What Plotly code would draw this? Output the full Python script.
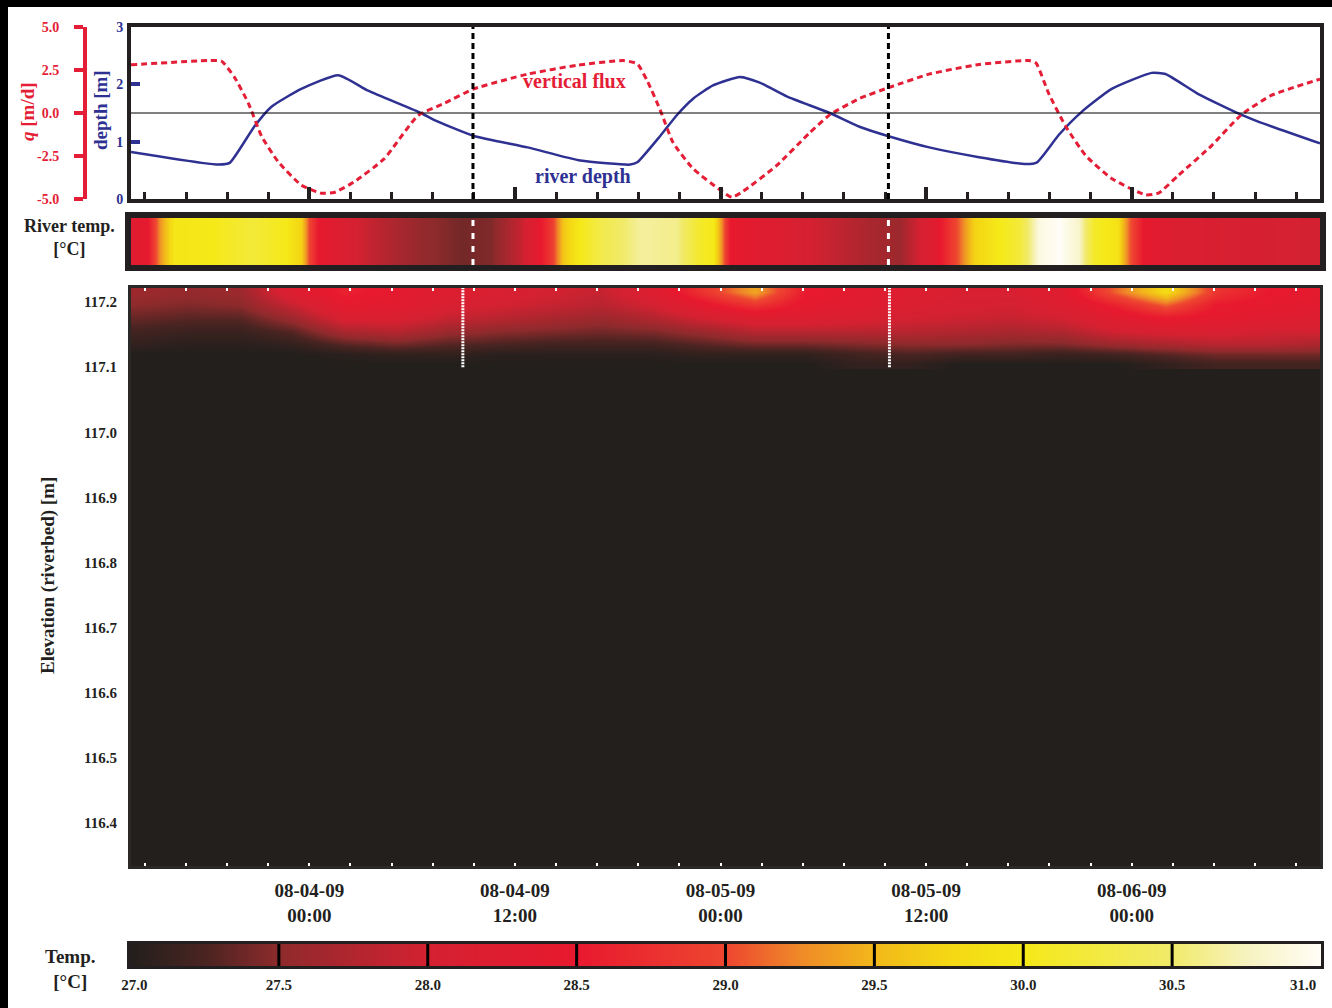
import pandas as pd
import plotly.graph_objects as go

# ---------------- data ----------------
BASE = pd.Timestamp("2009-08-04 00:00")

# river depth [m]  (hours after 08-04-09 00:00)
depth_hours = [-10.41, -6.28, -5.29, -4.65, -3.20, -2.21, -0.47, 1.69, 3.43, 6.52, 7.27,
               9.60, 12.74, 15.82, 18.73, 19.14, 20.48, 21.47, 22.40, 23.56, 25.13, 26.29,
               27.86, 30.37, 32.11, 33.86, 36.18, 39.09, 41.83, 42.47, 43.75, 45.08, 46.83,
               49.16, 49.97, 51.89, 54.39, 55.38, 58.99]
depth_m = [0.82, 0.63, 0.60, 0.63, 1.27, 1.61, 1.92, 2.16, 1.89, 1.50, 1.38,
           1.10, 0.90, 0.67, 0.60, 0.64, 1.10, 1.47, 1.75, 1.98, 2.13, 2.03,
           1.79, 1.50, 1.26, 1.09, 0.90, 0.73, 0.61, 0.64, 1.12, 1.52, 1.92,
           2.20, 2.18, 1.83, 1.47, 1.35, 0.97]

# vertical flux q [m/d]
q_hours = [-10.41, -5.88, -5.12, -4.36, -3.55, -2.79, -1.80, -0.47, 0.70, 1.45, 2.62, 4.36,
           6.34, 7.85, 9.60, 12.74, 15.65, 18.32, 19.14, 19.72, 20.48, 21.23, 22.40, 23.97,
           24.67, 25.31, 27.28, 29.20, 30.37, 32.11, 33.86, 36.18, 39.09, 42.00, 42.41,
           43.16, 44.15, 45.32, 46.83, 48.81, 49.56, 50.73, 52.65, 54.39, 56.14, 58.99]
q_md = [2.80, 3.05, 3.01, 2.06, 0.55, -1.35, -2.86, -4.19, -4.66, -4.62, -4.00, -2.67,
        -0.15, 0.55, 1.40, 2.26, 2.78, 3.05, 2.86, 1.88, 0.17, -1.72, -3.24, -4.47,
        -4.90, -4.56, -3.05, -1.15, -0.11, 0.84, 1.49, 2.26, 2.82, 3.05, 2.91,
        1.12, -0.78, -2.48, -3.81, -4.76, -4.66, -3.62, -1.91, -0.11, 1.02, 1.97]

# river temperature [degC]
river_hours = [-10.30, -9.48, -8.73, -7.91, -5.70, -3.37, -1.34, -0.47, 0.00, 0.58, 2.15,
               4.19, 6.52, 8.84, 10.59, 12.33, 13.32, 14.19, 14.83, 15.82, 16.99, 19.31,
               21.47, 22.80, 23.56, 23.97, 24.55, 26.29, 29.78, 32.69, 34.44, 36.47, 37.93,
               38.80, 40.26, 41.42, 42.58, 43.75, 44.91, 45.78, 47.12, 47.82, 48.69, 50.73,
               54.80, 58.87]
river_temp = [28.30, 28.45, 29.30, 29.95, 30.00, 30.20, 30.00, 29.70, 29.00, 28.45, 28.10,
              27.80, 27.55, 27.40, 27.45, 27.90, 28.40, 28.90, 29.60, 30.00, 30.30, 30.65,
              30.60, 30.10, 30.00, 29.40, 28.50, 28.30, 27.95, 27.70, 27.60, 28.30, 29.10,
              29.70, 30.00, 30.20, 30.90, 31.00, 30.80, 30.10, 29.90, 29.10, 28.45, 28.15,
              28.05, 28.00]

# riverbed temperature profile
profile_hours = [-10, -7, -4, -1, 2, 5, 8, 11, 14, 17, 20, 23, 26, 29, 32, 35, 38, 41,
                 44, 47, 50, 53, 56, 59]
profile_elev_top_down = [117.215, 117.195, 117.175, 117.155, 117.135, 117.12, 117.105]
profile_temp_top_down = [
    [27.6, 27.55, 27.6, 28.2, 28.6, 28.4, 28.2, 28.1, 28.0, 27.9, 28.2, 28.8, 29.4, 28.5,
     28.35, 28.2, 28.1, 28.1, 28.3, 29.1, 29.8, 28.8, 28.5, 28.4],
    [27.5, 27.45, 27.5, 27.9, 28.4, 28.35, 28.1, 28.0, 27.9, 27.8, 28.0, 28.4, 28.8, 28.4,
     28.3, 28.15, 28.05, 28.0, 28.2, 28.6, 29.1, 28.5, 28.4, 28.35],
    [27.35, 27.3, 27.3, 27.6, 28.1, 28.1, 27.9, 27.8, 27.7, 27.6, 27.75, 28.0, 28.2, 28.2,
     28.1, 28.0, 27.95, 27.9, 28.0, 28.3, 28.5, 28.4, 28.3, 28.2],
    [27.2, 27.15, 27.15, 27.3, 27.7, 27.8, 27.6, 27.5, 27.45, 27.4, 27.45, 27.6, 27.8, 27.8,
     27.8, 27.8, 27.75, 27.7, 27.75, 28.0, 28.1, 28.1, 28.0, 28.0],
    [27.1, 27.05, 27.05, 27.1, 27.3, 27.4, 27.3, 27.25, 27.2, 27.2, 27.2, 27.3, 27.4, 27.4,
     27.45, 27.5, 27.5, 27.45, 27.45, 27.6, 27.7, 27.8, 27.8, 27.7],
    [27.0, 27.0, 27.0, 27.0, 27.05, 27.1, 27.1, 27.05, 27.05, 27.05, 27.05, 27.1, 27.1, 27.1,
     27.2, 27.25, 27.2, 27.2, 27.15, 27.2, 27.3, 27.4, 27.4, 27.4],
    [27.0, 27.0, 27.0, 27.0, 27.0, 27.0, 27.0, 27.0, 27.0, 27.0, 27.0, 27.0, 27.0, 27.0,
     27.1, 27.1, 27.0, 27.0, 27.0, 27.0, 27.1, 27.2, 27.2, 27.2],
]

# event marker times (dashed verticals)
event_hours_top = [9.55, 33.80]
event_hours_profile = [8.96, 33.86]

# tick labels
q_ticks = [-5.0, -2.5, 0.0, 2.5, 5.0]
depth_ticks = [0, 1, 2, 3]
temp_ticks = [27.0, 27.5, 28.0, 28.5, 29.0, 29.5, 30.0, 30.5, 31.0]

# ---------------- styling ----------------
W, H = 1332, 1008
SERIF = "Liberation Serif, Times New Roman, serif"
DARK = "#231f20"
RED = "#e41e36"
NAVY = "#2e3192"

COLORSCALE = [
    [0.0, "#221f1c"],
    [0.0625, "#4a2421"],
    [0.125, "#8e2a2c"],
    [0.25, "#d42131"],
    [0.375, "#e8192f"],
    [0.5, "#ee4630"],
    [0.5625, "#ef8a28"],
    [0.625, "#f2b81a"],
    [0.6875, "#f4d814"],
    [0.75, "#f5e918"],
    [0.875, "#f1ea6a"],
    [0.9375, "#f7f3c0"],
    [1.0, "#fffdf7"],
]


def hx(x):
    return x / W


def vy(y):
    return 1 - y / H


def to_time(hours):
    return [BASE + pd.Timedelta(hours=h) for h in hours]


X_DOM = [hx(131), hx(1320)]
TOP_DOM = [vy(199), vy(27)]
STRIP_DOM = [vy(265), vy(218)]
PROF_DOM = [vy(866), vy(288)]
CB_DOM = [vy(966), vy(944)]
X_RANGE = [BASE - pd.Timedelta(hours=10.41), BASE + pd.Timedelta(hours=58.99)]

fig = go.Figure()

# top panel traces
fig.add_trace(go.Scatter(x=to_time(depth_hours), y=depth_m, mode="lines",
                         line=dict(color=NAVY, width=2.5, shape="spline", smoothing=0.5),
                         xaxis="x", yaxis="y", showlegend=False, hoverinfo="skip"))
fig.add_trace(go.Scatter(x=to_time(q_hours), y=q_md, mode="lines",
                         line=dict(color=RED, width=3, dash="6px,4px", shape="spline",
                                   smoothing=0.5),
                         xaxis="x", yaxis="y2", showlegend=False, hoverinfo="skip"))

# river temperature strip
fig.add_trace(go.Heatmap(x=to_time(river_hours), y=[0, 1], z=[river_temp, river_temp],
                         colorscale=COLORSCALE, zmin=27, zmax=31, zsmooth="best",
                         showscale=False, xaxis="x2", yaxis="y3", hoverinfo="skip"))

# riverbed profile
prof_elev = profile_elev_top_down[::-1]
prof_z = profile_temp_top_down[::-1]
fig.add_trace(go.Heatmap(x=to_time(profile_hours), y=prof_elev, z=prof_z,
                         colorscale=COLORSCALE, zmin=27, zmax=31, zsmooth="best",
                         showscale=False, xaxis="x3", yaxis="y4", hoverinfo="skip"))

# colour bar
fig.add_trace(go.Heatmap(x=temp_ticks, y=[0, 1], z=[temp_ticks, temp_ticks],
                         colorscale=COLORSCALE, zmin=27, zmax=31, zsmooth="best",
                         showscale=False, xaxis="x4", yaxis="y5", hoverinfo="skip"))

bold = dict(family=SERIF, weight="bold")

shapes = []
# page black borders
shapes.append(dict(type="rect", xref="paper", yref="paper", x0=0, x1=hx(8), y0=0, y1=1,
                   fillcolor="black", line=dict(width=0), layer="below"))
shapes.append(dict(type="rect", xref="paper", yref="paper", x0=0, x1=1, y0=vy(7), y1=1,
                   fillcolor="black", line=dict(width=0), layer="below"))
# dark background of profile panel
shapes.append(dict(type="rect", xref="x3 domain", yref="y4 domain", x0=0, x1=1, y0=0, y1=1,
                   fillcolor="#221f1c", line=dict(width=0), layer="below"))
# zero line of flux
shapes.append(dict(type="line", xref="x domain", yref="y2", x0=0, x1=1, y0=0, y1=0,
                   line=dict(color="black", width=1)))
for t in to_time(event_hours_top):
    shapes.append(dict(type="line", xref="x", yref="y domain", x0=t, x1=t, y0=0, y1=1,
                       line=dict(color="black", width=3, dash="6px,4px")))
    shapes.append(dict(type="line", xref="x2", yref="y3 domain", x0=t, x1=t, y0=0, y1=1,
                       line=dict(color="white", width=3, dash="6px,7px")))
for t in to_time(event_hours_profile):
    shapes.append(dict(type="line", xref="x3", yref="y4", x0=t, x1=t, y0=117.1, y1=117.222,
                       line=dict(color="white", width=3, dash="2px,1px")))
for v in temp_ticks[1:-1]:
    shapes.append(dict(type="line", xref="x4", yref="y5 domain", x0=v, x1=v, y0=0, y1=1,
                       line=dict(color="black", width=3)))


def note(text, x, y, size, color, angle=0):
    return dict(text=text, x=x, y=y, xref="paper", yref="paper", xanchor="center",
                yanchor="middle", textangle=angle, showarrow=False,
                font=dict(size=size, color=color, **bold))


annotations = [
    dict(text="vertical flux", x=BASE + pd.Timedelta(hours=15.5), y=2.05, xref="x", yref="y",
         xanchor="center", yanchor="middle",
         showarrow=False, font=dict(size=20, color=RED, **bold)),
    dict(text="river depth", x=BASE + pd.Timedelta(hours=16.0), y=0.40, xref="x", yref="y",
         xanchor="center", yanchor="middle",
         showarrow=False, font=dict(size=20, color=NAVY, **bold)),
    note("<i>q</i> [m/d]", hx(27), vy(112), 19, RED, -90),
    note("depth [m]", hx(100), vy(110), 19, NAVY, -90),
    note("River temp.<br>[°C]", hx(69), vy(237), 18, DARK),
    note("Elevation (riverbed) [m]", hx(48), vy(576), 19, DARK, -90),
    note("Temp.<br>[°C]", hx(70), vy(969), 19, DARK),
]

# colour bar tick positions (end labels nudged inward like the reference)
cb_tickvals = list(temp_ticks)
cb_tickvals[0] = temp_ticks[0] + 0.015
cb_tickvals[-1] = temp_ticks[-1] - 0.06
cb_ticktext = [f"{v:.1f}" for v in temp_ticks]

H12 = 12 * 3600 * 1000
H24_10 = 2.4 * 3600 * 1000

fig.update_layout(
    width=W, height=H,
    margin=dict(l=0, r=0, t=0, b=0, pad=0, autoexpand=False),
    paper_bgcolor="white", plot_bgcolor="white",
    showlegend=False,
    shapes=shapes, annotations=annotations,
    xaxis=dict(domain=X_DOM, anchor="y", type="date", range=X_RANGE,
               showline=True, mirror=True, linewidth=4, linecolor=DARK,
               showgrid=False, zeroline=False, showticklabels=False,
               ticks="inside", tick0=BASE, dtick=H12, ticklen=12, tickwidth=4,
               tickcolor=DARK,
               minor=dict(ticks="inside", dtick=H24_10, tick0=BASE, ticklen=7,
                          tickwidth=3, tickcolor=DARK, showgrid=False)),
    yaxis=dict(domain=TOP_DOM, anchor="x", range=[0, 3], showline=True, mirror=True,
               linewidth=4, linecolor=DARK, showgrid=False, zeroline=False,
               tickvals=depth_ticks, ticks="inside", ticklen=9, tickwidth=4,
               tickcolor=NAVY, tickfont=dict(size=14, color=NAVY, **bold),
               ticklabelstandoff=1),
    yaxis2=dict(overlaying="y", anchor="free", position=hx(85), side="left",
                range=[-5, 5], showline=True, linewidth=4, linecolor=RED,
                showgrid=False, zeroline=False, tickvals=q_ticks,
                ticktext=[f"{v:.1f}" for v in q_ticks],
                ticks="outside", ticklen=9, tickwidth=4, tickcolor=RED,
                tickfont=dict(size=14, color=RED, **bold), ticklabelstandoff=12),
    xaxis2=dict(domain=X_DOM, anchor="y3", type="date", matches="x",
                showline=True, mirror=True, linewidth=6, linecolor=DARK,
                showgrid=False, zeroline=False, showticklabels=False, ticks=""),
    yaxis3=dict(domain=STRIP_DOM, anchor="x2", range=[0, 1], showline=True, mirror=True,
                linewidth=6, linecolor=DARK, showgrid=False, zeroline=False,
                showticklabels=False, ticks=""),
    xaxis3=dict(domain=X_DOM, anchor="y4", type="date", matches="x",
                showline=True, mirror="allticks", linewidth=3, linecolor="#2b2927",
                showgrid=False, zeroline=False,
                tick0=BASE, dtick=H12, tickformat="%m-%d-%y<br>%H:%M",
                ticks="inside", ticklen=3, tickwidth=2, tickcolor="white",
                minor=dict(ticks="inside", dtick=H24_10, tick0=BASE, ticklen=3,
                           tickwidth=2, tickcolor="white", showgrid=False),
                tickfont=dict(size=19, color=DARK, **bold), ticklabelstandoff=5),
    yaxis4=dict(domain=PROF_DOM, anchor="x3", range=[116.334, 117.2215],
                showline=True, mirror=True, linewidth=3, linecolor="#2b2927",
                showgrid=False, zeroline=False, tick0=116.4, dtick=0.1,
                tickformat=".1f", ticks="",
                tickfont=dict(size=15, color=DARK, **bold), ticklabelstandoff=8),
    xaxis4=dict(domain=[hx(130), hx(1321)], anchor="y5", range=[27, 31],
                showline=True, mirror=True, linewidth=3, linecolor=DARK,
                showgrid=False, zeroline=False, tickvals=cb_tickvals,
                ticktext=cb_ticktext, ticks="",
                tickfont=dict(size=15, color=DARK, **bold), ticklabelstandoff=3),
    yaxis5=dict(domain=CB_DOM, anchor="x4", range=[0, 1], showline=True, mirror=True,
                linewidth=3, linecolor=DARK, showgrid=False, zeroline=False,
                showticklabels=False, ticks=""),
)

fig.write_html("out.html", config={"displayModeBar": False},
               post_script="document.body.style.margin='0';document.body.style.padding='0';")
